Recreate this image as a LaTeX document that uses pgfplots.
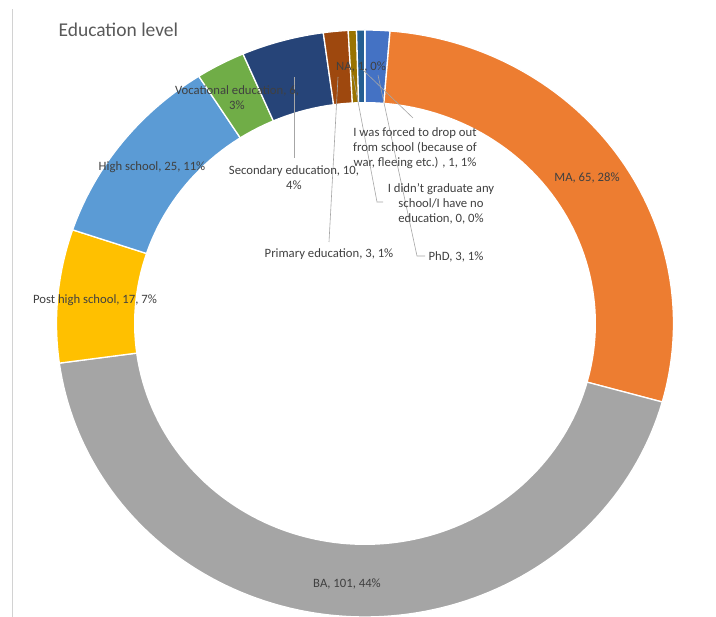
\documentclass[border=0pt]{standalone}
\usepackage{pgfplots}
\usepackage{pgfplotstable}
\pgfplotsset{compat=1.18}
\usepackage{fontspec}
\setmainfont{Carlito}
\definecolor{cPhD}{HTML}{4472C4}
\definecolor{cMA}{HTML}{ED7D31}
\definecolor{cBA}{HTML}{A5A5A5}
\definecolor{cPost}{HTML}{FFC000}
\definecolor{cHigh}{HTML}{5B9BD5}
\definecolor{cVoc}{HTML}{70AD47}
\definecolor{cSec}{HTML}{264478}
\definecolor{cPrim}{HTML}{9E480E}
\definecolor{cNoEdu}{HTML}{636363}
\definecolor{cForced}{HTML}{997300}
\definecolor{cNA}{HTML}{255E91}
\definecolor{lbl}{HTML}{404040}
\definecolor{ttl}{HTML}{595959}
\definecolor{lead}{HTML}{A6A6A6}

\pgfplotstableread{
value colour
3   cPhD
65  cMA
101 cBA
17  cPost
25  cHigh
6   cVoc
10  cSec
3   cPrim
0   cNoEdu
1   cForced
1   cNA
}\edudata

\def\total{232}
\def\cx{365}\def\cy{293.5}
\def\rx{308.5}\def\ry{293.5}
\def\irx{231}\def\iry{221.5}

\begin{document}
\begin{tikzpicture}
\begin{axis}[
  width=716pt, height=617pt, scale only axis,
  xmin=0, xmax=716, ymin=0, ymax=617,
  hide axis,
]
\path (axis cs:0,0) rectangle (axis cs:716,617);
\gdef\aStart{90}
\pgfplotsinvokeforeach{0,...,10}{
  \pgfplotstablegetelem{#1}{value}\of\edudata \let\val\pgfplotsretval
  \pgfplotstablegetelem{#1}{colour}\of\edudata \let\col\pgfplotsretval
  \pgfmathsetmacro\aEnd{\aStart-\val/\total*360}
  \ifdim\val pt>0pt
    \edef\doplot{\noexpand\addplot[fill=\col, draw=white, line width=1.3pt,
      domain=\aEnd:\aStart, samples=100, variable=\noexpand\t]
      ({\cx+\rx*cos(\noexpand\t)},{\cy+\ry*sin(\noexpand\t)}) -- (axis cs:\cx,\cy) -- cycle;}
    \doplot
  \fi
  \global\let\aStart\aEnd
}
\addplot[fill=white, draw=none, domain=0:360, samples=200, variable=\t]
  ({\cx+\irx*cos(\t)},{\cy+\iry*sin(\t)}) -- cycle;

\draw[color=gray!35, line width=0.8pt] (axis cs:12,0) -- (axis cs:12,608);

\begin{scope}[lead, line width=0.6pt]
\draw (axis cs:294,540) -- (axis cs:294,459);
\draw (axis cs:338,540) -- (axis cs:329,375);
\draw (axis cs:353,542) -- (axis cs:377,415) -- (axis cs:383,415);
\draw (axis cs:363,547) -- (axis cs:413,499);
\draw (axis cs:378,542) -- (axis cs:417,361) -- (axis cs:425,361);
\end{scope}

\node[anchor=west, text=ttl, font=\fontsize{19.5}{23}\selectfont] at (axis cs:55,587) {Education level};

\begin{scope}[every node/.style={text=lbl, font=\fontsize{12.7}{15}\selectfont, align=center, inner sep=0pt}]
\node at (axis cs:587,439) {MA, 65, 28\%};
\node at (axis cs:347,33) {BA, 101, 44\%};
\node at (axis cs:95,317) {Post high school, 17, 7\%};
\node at (axis cs:152,450) {High school, 25, 11\%};
\node at (axis cs:237,519.5) {Vocational education, 6,\\3\%};
\node at (axis cs:294,439) {Secondary education, 10,\\4\%};
\node at (axis cs:329,363) {Primary education, 3, 1\%};
\node at (axis cs:415,469) {I was forced to drop out\\from school (because of\\war, fleeing etc.) , 1, 1\%};
\node at (axis cs:441,413) {I didn’t graduate any\\school/I have no\\education, 0, 0\%};
\node at (axis cs:456,360) {PhD, 3, 1\%};
\node at (axis cs:361,550) {NA, 1, 0\%};
\end{scope}
\end{axis}
\end{tikzpicture}
\end{document}
